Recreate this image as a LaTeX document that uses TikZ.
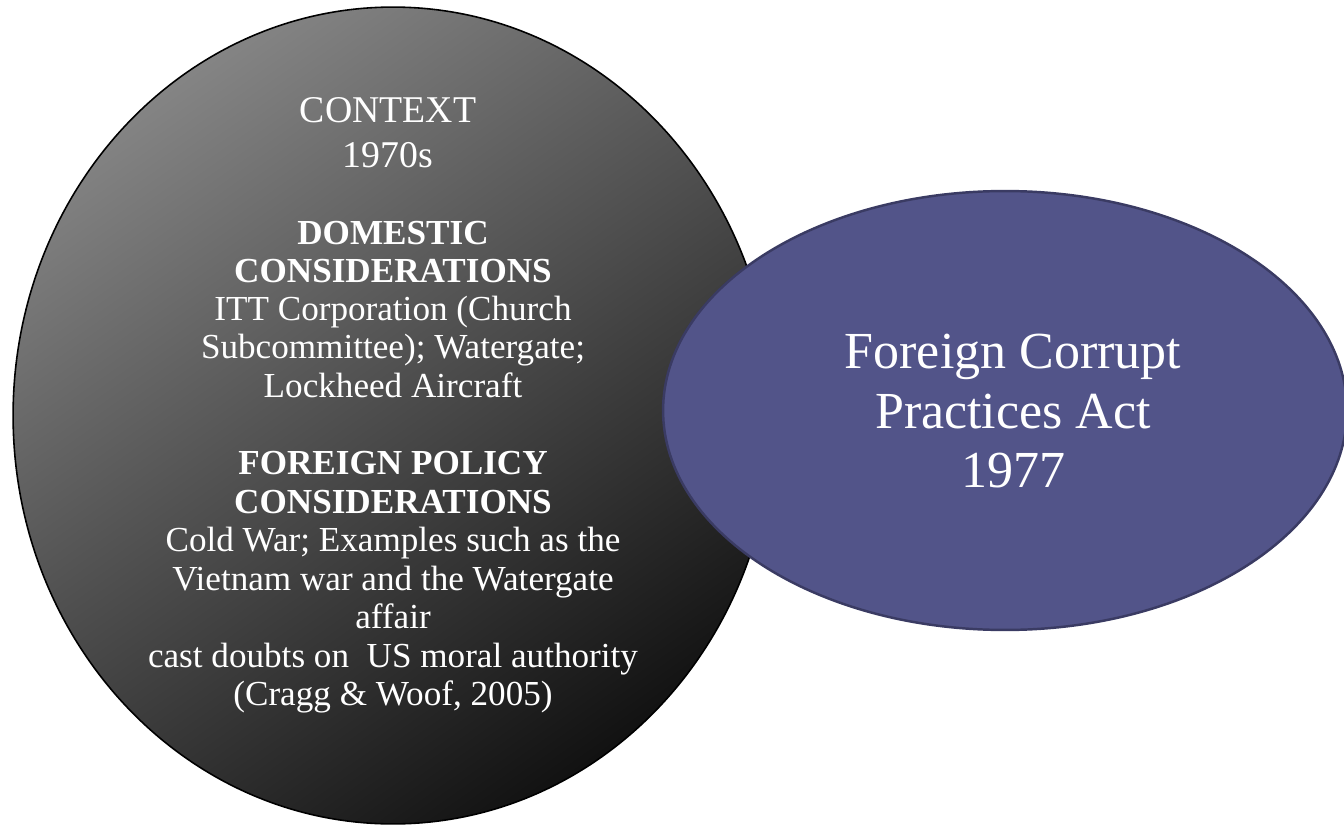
\documentclass[tikz,border=0pt]{standalone}
\usepackage{fontspec}
\setmainfont{Liberation Serif}
\usetikzlibrary{shapes.geometric}
\definecolor{ctxlight}{RGB}{132,132,132}
\definecolor{ctxdark}{RGB}{18,18,18}
\definecolor{actfill}{RGB}{82,84,137}
\definecolor{actline}{RGB}{58,59,99}

\begin{document}
\begin{tikzpicture}[x=0.02cm, y=-0.02cm,
  bubble/.style={ellipse, inner sep=0pt},
  blocktext/.style={text=white, align=center, inner sep=0pt, anchor=north,
    font=\fontsize{20}{21.7}\selectfont}]
\useasboundingbox (0,0) rectangle (1344,827);

% left bubble: context of the seventies
\node[bubble, draw=black, line width=0.9pt, top color=ctxlight, bottom color=ctxdark,
  shading angle=35, minimum width=15.2cm, minimum height=16.34cm] (context) at (393,415.5) {};

\node[blocktext, font=\fontsize{21.5}{25.6}\selectfont] (ctxhead) at (388,97) {CONTEXT\\1970s};
\node[blocktext] (domestic) at (393,221) {\textbf{DOMESTIC}\\\textbf{CONSIDERATIONS}\\
  ITT Corporation (Church\\Subcommittee); Watergate;\\Lockheed Aircraft};
\node[blocktext, font=\fontsize{20}{21.9}\selectfont] (foreign) at (393,451) {\textbf{FOREIGN POLICY}\\\textbf{CONSIDERATIONS}\\
  Cold War; Examples such as the\\Vietnam war and the Watergate\\affair\\
  cast doubts on~ US moral authority\\(Cragg \& Woof, 2005)};

% right bubble: the act itself, drawn on top
\node[bubble, draw=actline, line width=1.4pt, fill=actfill,
  minimum width=13.68cm, minimum height=8.78cm] (act) at (1005,410.5) {};
\node[blocktext, font=\fontsize{29.6}{33.9}\selectfont] (acttitle) at (1013,334)
  {Foreign Corrupt\\Practices Act\\1977};

\end{tikzpicture}
\end{document}
